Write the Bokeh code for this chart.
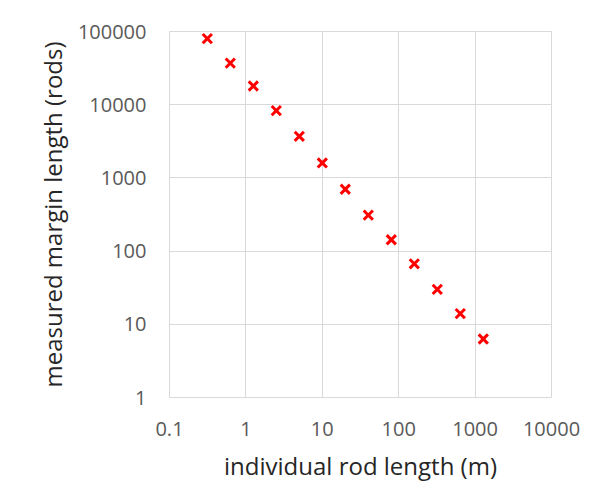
from bokeh.plotting import figure
from bokeh.models import FixedTicker
from bokeh.embed import file_html
from bokeh.resources import INLINE

# data
rod_length = [0.3125, 0.625, 1.25, 2.5, 5, 10, 20, 40, 80, 160, 320, 640, 1280]
margin_length = [80000, 37000, 18000, 8300, 3700, 1600, 700, 310, 143, 67, 30, 14, 6.3]
x_ticks = [0.1, 1, 10, 100, 1000, 10000]
x_tick_labels = ["0.1", "1", "10", "100", "1000", "10000"]
y_ticks = [1, 10, 100, 1000, 10000, 100000]
y_tick_labels = ["1", "10", "100", "1000", "10000", "100000"]

FONT = "Open Sans"
GRID = "#D9D9D9"

p = figure(width=596, height=499, x_axis_type="log", y_axis_type="log",
           x_range=(0.1, 10000), y_range=(1, 100000),
           output_backend="svg", toolbar_location=None,
           min_border_left=169, min_border_right=45,
           min_border_top=31, min_border_bottom=102)

p.scatter(rod_length, margin_length, marker="x", size=13,
          line_color="#FF0000", line_width=3)

p.outline_line_color = GRID
p.outline_line_width = 1

for ax, ticks, labels in ((p.xaxis[0], x_ticks, x_tick_labels),
                          (p.yaxis[0], y_ticks, y_tick_labels)):
    ax.ticker = FixedTicker(ticks=ticks)
    ax.major_label_overrides = {t: l for t, l in zip(ticks, labels)}
    ax.axis_line_color = None
    ax.major_tick_line_color = None
    ax.minor_tick_line_color = None
    ax.major_label_text_font = FONT
    ax.major_label_text_font_size = "20px"
    ax.major_label_text_color = "#595959"
    ax.axis_label_text_font = FONT
    ax.axis_label_text_font_size = "24px"
    ax.axis_label_text_font_style = "normal"
    ax.axis_label_text_color = "#262626"

p.xaxis.axis_label = "individual rod length (m)"
p.yaxis.axis_label = "measured margin length (rods)"
p.xaxis.major_label_standoff = 18
p.yaxis.major_label_standoff = 17
p.xaxis.axis_label_standoff = 10
p.yaxis.axis_label_standoff = 6

p.xgrid[0].ticker = FixedTicker(ticks=x_ticks)
p.ygrid[0].ticker = FixedTicker(ticks=y_ticks)
for g in (p.xgrid[0], p.ygrid[0]):
    g.grid_line_color = GRID
    g.grid_line_width = 1

open("out.html", "w").write(file_html(p, INLINE))
